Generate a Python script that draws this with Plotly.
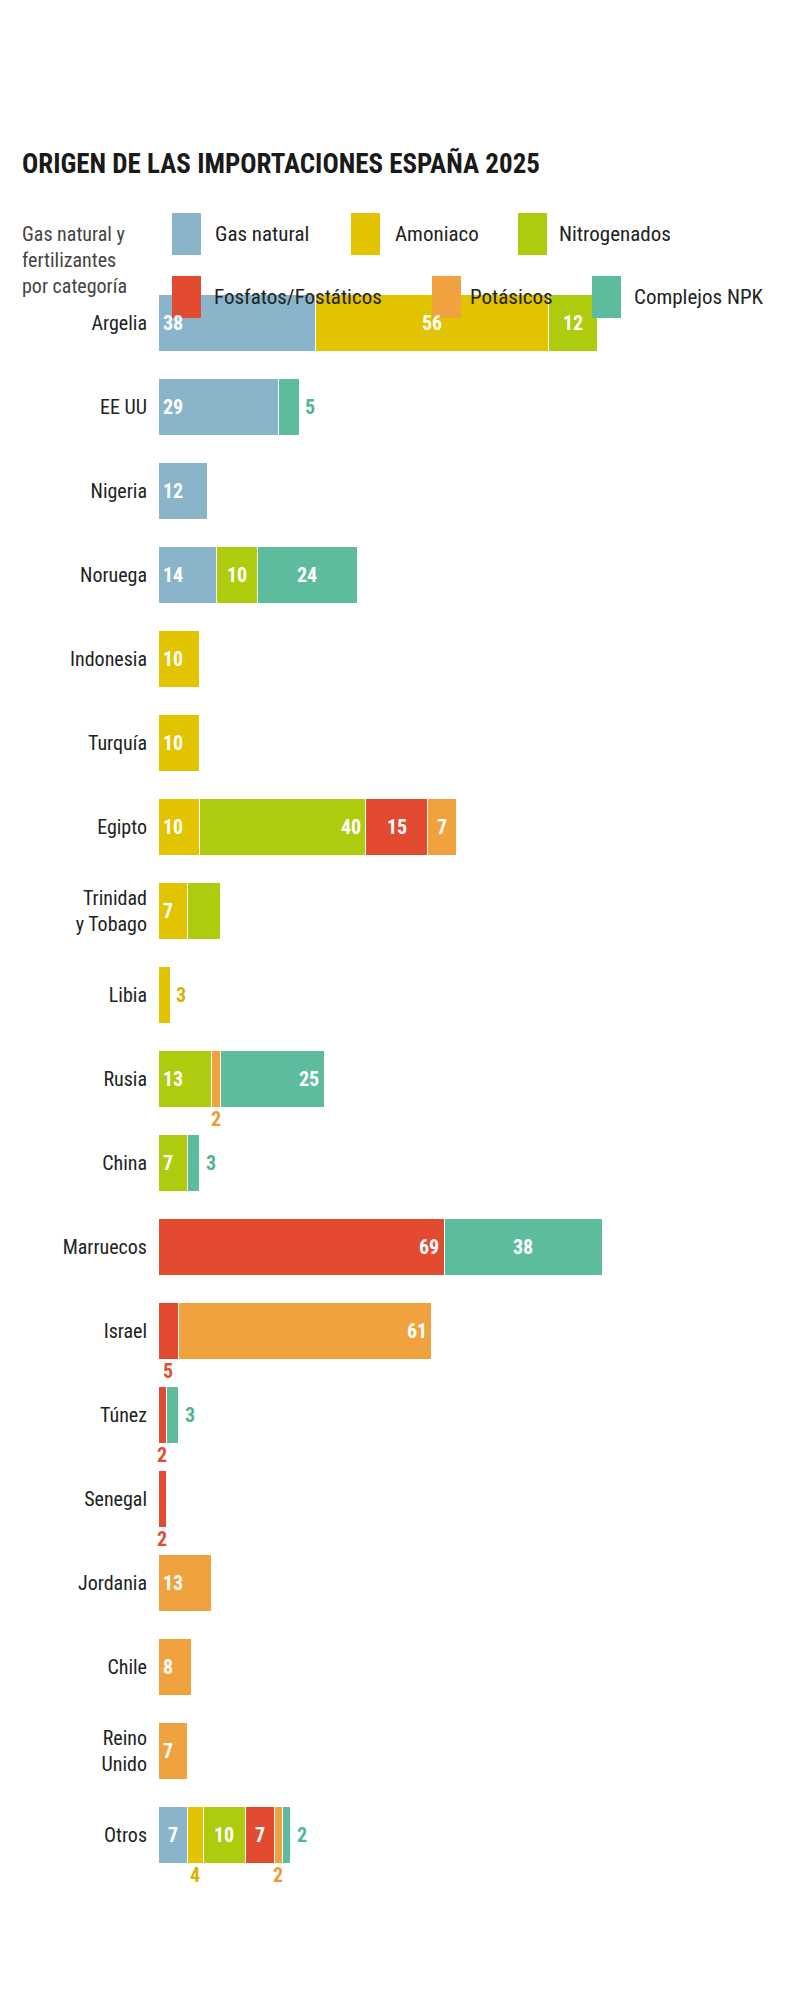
import plotly.graph_objects as go

countries = ["Argelia", "EE UU", "Nigeria", "Noruega", "Indonesia", "Turquía", "Egipto",
             "Trinidad<br>y Tobago", "Libia", "Rusia", "China", "Marruecos", "Israel", "Túnez",
             "Senegal", "Jordania", "Chile", "Reino<br>Unido", "Otros"]
series = ["Gas natural", "Amoniaco", "Nitrogenados", "Fosfatos/Fostáticos", "Potásicos", "Complejos NPK"]
colors = ["#8AB4CA", "#E2C300", "#AFCB0E", "#E34B31", "#F0A23E", "#5DBC9E"]
gas   = [38, 29, 12, 14, 0, 0, 0, 0, 0, 0, 0, 0, 0, 0, 0, 0, 0, 0, 7]
amon  = [56, 0, 0, 0, 10, 10, 10, 7, 3, 0, 0, 0, 0, 0, 0, 0, 0, 0, 4]
nitro = [12, 0, 0, 10, 0, 0, 40, 8, 0, 13, 7, 0, 0, 0, 0, 0, 0, 0, 10]
fosf  = [0, 0, 0, 0, 0, 0, 15, 0, 0, 0, 0, 69, 5, 2, 2, 0, 0, 0, 7]
pot   = [0, 0, 0, 0, 0, 0, 7, 0, 0, 2, 0, 0, 61, 0, 0, 13, 8, 7, 2]
npk   = [0, 5, 0, 24, 0, 0, 0, 0, 0, 25, 3, 38, 0, 3, 0, 0, 0, 0, 2]
values = [gas, amon, nitro, fosf, pot, npk]
# label placement: s=start, m=middle, e=end, o=outside right, b=below, n=none
modes = [
    ["s", "s", "s", "s", "", "", "", "", "", "", "", "", "", "", "", "", "", "", "m"],
    ["m", "", "", "", "s", "s", "s", "s", "o", "", "", "", "", "", "", "", "", "", "b"],
    ["m", "", "", "m", "", "", "e", "n", "", "s", "s", "", "", "", "", "", "", "", "m"],
    ["", "", "", "", "", "", "m", "", "", "", "", "e", "b", "b", "b", "", "", "", "m"],
    ["", "", "", "", "", "", "m", "", "", "b", "", "", "e", "", "", "s", "s", "s", "b"],
    ["", "o", "", "m", "", "", "", "", "", "e", "o", "m", "", "o", "", "", "", "", "o"],
]
label_colors = ["#8AB4CA", "#D4B400", "#A2BD0C", "#E34B31", "#EE9A33", "#4FB592"]

FONT = "Liberation Sans Narrow, Roboto Condensed, Roboto, sans-serif"
W, H, L = 800, 2003, 150
PXU = 4.15
xmax = (W - L) / PXU

fig = go.Figure()
for name, vals, col in zip(series, values, colors):
    fig.add_trace(go.Bar(y=countries, x=vals, name=name, orientation="h",
                         marker=dict(color=col, line=dict(color="white", width=1)),
                         hoverinfo="x+name", showlegend=False))

ann = []
for i, c in enumerate(countries):
    cum = 0
    for s in range(len(series)):
        v = values[s][i]
        m = modes[s][i]
        start, end = cum, cum + v
        cum = end
        if v == 0 or m in ("", "n"):
            continue
        txt = f"<b>{v}</b>"
        if m == "s":
            ann.append(dict(x=start, y=c, text=txt, xanchor="left", xshift=3, font=dict(color="white", size=20, family=FONT), showarrow=False))
        elif m == "m":
            ann.append(dict(x=(start + end) / 2, y=c, text=txt, xanchor="center", font=dict(color="white", size=20, family=FONT), showarrow=False))
        elif m == "e":
            ann.append(dict(x=end, y=c, text=txt, xanchor="right", xshift=-3, font=dict(color="white", size=20, family=FONT), showarrow=False))
        elif m == "o":
            ann.append(dict(x=end, y=c, text=txt, xanchor="left", xshift=4, font=dict(color=label_colors[s], size=20, family=FONT), showarrow=False))
        elif m == "b":
            ann.append(dict(x=(start + end) / 2, y=c, text=txt, xanchor="center", yshift=-40, font=dict(color=label_colors[s], size=20, family=FONT), showarrow=False))

def px(xp):
    return (xp - L) / (W - L)

# title and legend (paper coordinates from pixel positions)
top, bot = 273, 1869
def py(yp):
    return (H - bot - (yp - 0)) / (bot - top) + 1 + (bot - H) / (bot - top) if False else (bot - yp) / (bot - top)

ann.append(dict(x=px(12), y=py(156), xref="paper", yref="paper", xanchor="left", yanchor="middle",
                text="<b>ORIGEN DE LAS IMPORTACIONES ESPAÑA 2025</b>", showarrow=False,
                font=dict(size=27, color="#1a1a1a", family=FONT)))
ann.append(dict(x=px(12), y=py(252), xref="paper", yref="paper", xanchor="left", yanchor="middle", align="left",
                text="Gas natural y<br>fertilizantes<br>por categoría", showarrow=False,
                font=dict(size=20, color="#444", family=FONT)))
leg = [(164, 205, 226), (343, 385, 226), (510, 549, 226), (164, 204, 289), (424, 460, 289), (584, 624, 289)]
shapes = []
for (sx, tx, yc), name, col in zip(leg, series, colors):
    shapes.append(dict(type="rect", xref="paper", yref="paper", x0=px(sx), x1=px(sx + 29),
                       y0=py(yc - 21), y1=py(yc + 21), fillcolor=col, line=dict(width=0)))
    ann.append(dict(x=px(tx), y=py(yc), xref="paper", yref="paper", xanchor="left", yanchor="middle",
                    text=name, showarrow=False, font=dict(size=21, color="#222", family=FONT)))

fig.update_layout(
    width=W, height=H, barmode="stack", bargap=0.31,
    margin=dict(l=L, r=0, t=top, b=H - bot),
    plot_bgcolor="white", paper_bgcolor="white",
    xaxis=dict(range=[0, xmax], visible=False, fixedrange=True),
    yaxis=dict(autorange="reversed", showgrid=False, ticks="", ticklabelstandoff=10,
               tickfont=dict(size=20, color="#222", family=FONT), showline=False),
    annotations=ann, shapes=shapes,
    font=dict(family=FONT),
)
fig.write_html("out.html")
